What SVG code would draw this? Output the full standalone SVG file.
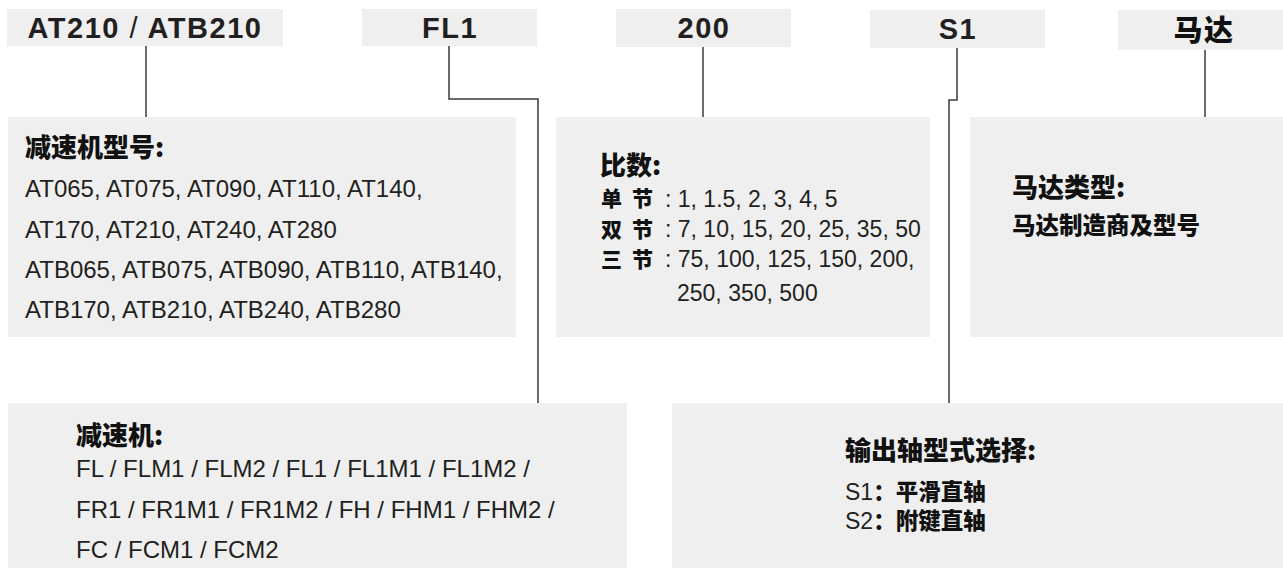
<svg xmlns="http://www.w3.org/2000/svg" width="1283" height="568" viewBox="0 0 1283 568">
<style>
.box{fill:#efefef}
.lbl{font-family:"Liberation Sans","Noto Sans CJK SC",sans-serif;font-weight:bold;font-size:29px;letter-spacing:1.5px;fill:#231f20;text-anchor:middle}
.cjk{font-family:"Noto Sans CJK SC","Liberation Sans",sans-serif;font-weight:900;fill:#111}
.t{font-family:"Liberation Sans","Noto Sans CJK SC",sans-serif;fill:#231f20}
.conn{fill:none;stroke:#3a3a3a;stroke-width:1.5}
</style>
<rect width="1283" height="568" fill="#fff"/>
<g id="connectors">
<path class="conn" d="M146,46 V117"/>
<path class="conn" d="M449,46 V99 H538 V403"/>
<path class="conn" d="M703,47 V117"/>
<path class="conn" d="M957,48 V100 H949 V403"/>
<path class="conn" d="M1205,50 V117"/>
</g>
<g id="code-model">
<rect class="box" x="7" y="9" width="276" height="37"/>
<text class="lbl" x="145" y="38">AT210 <tspan font-weight="normal">/</tspan> ATB210</text>
</g>
<g id="code-flange">
<rect class="box" x="362" y="9" width="175" height="37"/>
<text class="lbl" x="450" y="38">FL1</text>
</g>
<g id="code-ratio">
<rect class="box" x="616" y="9" width="175" height="38"/>
<text class="lbl" x="704" y="38">200</text>
</g>
<g id="code-shaft">
<rect class="box" x="870" y="10" width="175" height="38"/>
<text class="lbl" x="958" y="39">S1</text>
</g>
<g id="code-motor">
<rect class="box" x="1118" y="10" width="165" height="40"/>
<text class="lbl cjk" x="1204" y="41" font-size="27" letter-spacing="0">马达</text>
</g>
<g id="box-model">
<rect class="box" x="8" y="117" width="508" height="220"/>
<text class="cjk" x="25" y="157" font-size="26">减速机型号:</text>
<text class="t" font-size="24" x="25" y="197">AT065, AT075, AT090, AT110, AT140,</text>
<text class="t" font-size="24" x="25" y="238">AT170, AT210, AT240, AT280</text>
<text class="t" font-size="24" x="25" y="278">ATB065, ATB075, ATB090, ATB110, ATB140,</text>
<text class="t" font-size="24" x="25" y="318">ATB170, ATB210, ATB240, ATB280</text>
</g>
<g id="box-ratio">
<rect class="box" x="556" y="117" width="374" height="220"/>
<text class="cjk" x="600" y="175" font-size="26">比数:</text>
<text class="cjk" font-size="21" x="601" y="206">单</text>
<text class="cjk" font-size="21" x="632" y="206">节</text>
<text class="t" font-size="23" x="665" y="207">: 1, 1.5, 2, 3, 4, 5</text>
<text class="cjk" font-size="21" x="601" y="236.5">双</text>
<text class="cjk" font-size="21" x="632" y="236.5">节</text>
<text class="t" font-size="23" x="665" y="237">: 7, 10, 15, 20, 25, 35, 50</text>
<text class="cjk" font-size="21" x="601" y="267">三</text>
<text class="cjk" font-size="21" x="632" y="267">节</text>
<text class="t" font-size="23" x="665" y="267">: 75, 100, 125, 150, 200,</text>
<text class="t" font-size="23" x="677" y="301">250, 350, 500</text>
</g>
<g id="box-motor">
<rect class="box" x="970" y="117" width="313" height="220"/>
<text class="cjk" x="1012" y="197" font-size="26">马达类型:</text>
<text class="cjk" x="1012" y="234" font-size="23.5">马达制造商及型号</text>
</g>
<g id="box-flange">
<rect class="box" x="8" y="403" width="619" height="165"/>
<text class="cjk" x="76" y="445" font-size="26">减速机:</text>
<text class="t" font-size="24" x="76" y="477">FL / FLM1 / FLM2 / FL1 / FL1M1 / FL1M2 /</text>
<text class="t" font-size="24" x="76" y="518">FR1 / FR1M1 / FR1M2 / FH / FHM1 / FHM2 /</text>
<text class="t" font-size="24" x="76" y="558">FC / FCM1 / FCM2</text>
</g>
<g id="box-shaft">
<rect class="box" x="672" y="403" width="611" height="165"/>
<text class="cjk" x="845" y="460" font-size="26">输出轴型式选择:</text>
<text x="845" y="500"><tspan class="t" font-size="23">S1</tspan><tspan class="cjk" font-size="22.5">：平滑直轴</tspan></text>
<text x="845" y="529"><tspan class="t" font-size="23">S2</tspan><tspan class="cjk" font-size="22.5">：附键直轴</tspan></text>
</g>
</svg>
